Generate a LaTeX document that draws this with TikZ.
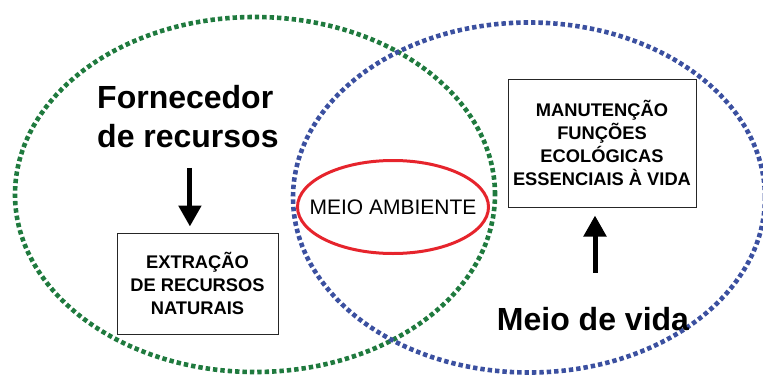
\documentclass[tikz,border=0pt]{standalone}
\usepackage{fontspec}
\setmainfont{Liberation Sans}
\usetikzlibrary{arrows.meta}
\definecolor{ringgreen}{RGB}{31,122,62}
\definecolor{ringblue}{RGB}{59,80,160}
\definecolor{ringred}{RGB}{230,36,44}

\begin{document}
\begin{tikzpicture}[x=1pt,y=-1pt,
  every node/.style={inner sep=0pt},
  dotring/.style={line width=4.6pt,dash pattern=on 4.4pt off 3pt},
  bigtext/.style={font=\fontsize{32}{39}\selectfont\bfseries,align=left},
  boxtext/.style={draw=black!85,line width=1pt,align=center,
    font=\fontsize{18.3}{22.8}\selectfont\bfseries},
  fatarrow/.style={line width=5pt,-{Triangle[width=22pt,length=21pt]}}]
\useasboundingbox (0,0) rectangle (763,375);
\draw [dotring,ringgreen] (255,194.5) ellipse [x radius=240pt,y radius=177.5pt];
\draw [dotring,ringblue] (529,197.5) ellipse [x radius=236pt,y radius=175pt];
\node [font=\fontsize{21}{25}\selectfont] (meio) at (393,207) {MEIO AMBIENTE};
\draw [ringred,line width=3pt] (meio.center) ellipse [x radius=95.5pt,y radius=46.5pt];
\node [bigtext,anchor=north west] (forn) at (97,85) {Fornecedor\\de recursos};
\node [boxtext,minimum width=161pt,minimum height=101pt] (extr) at (197.5,283.5)
  {EXTRAÇÃO\\DE RECURSOS\\NATURAIS};
\node [boxtext,minimum width=188pt,minimum height=128pt] (manut) at (602,143)
  {MANUTENÇÃO\\FUNÇÕES\\ECOLÓGICAS\\ESSENCIAIS À VIDA};
\node [bigtext,anchor=base] (vida) at (593,330) {Meio de vida};
\draw [fatarrow,shorten <=20pt,shorten >=6pt] ([xshift=2pt]forn.south)
  -- ([xshift=2pt]forn.south |- extr.north);
\draw [fatarrow,shorten <=34pt,shorten >=8pt] ([xshift=2pt]vida.north)
  -- ([xshift=2pt]vida.north |- manut.south);
\end{tikzpicture}
\end{document}
